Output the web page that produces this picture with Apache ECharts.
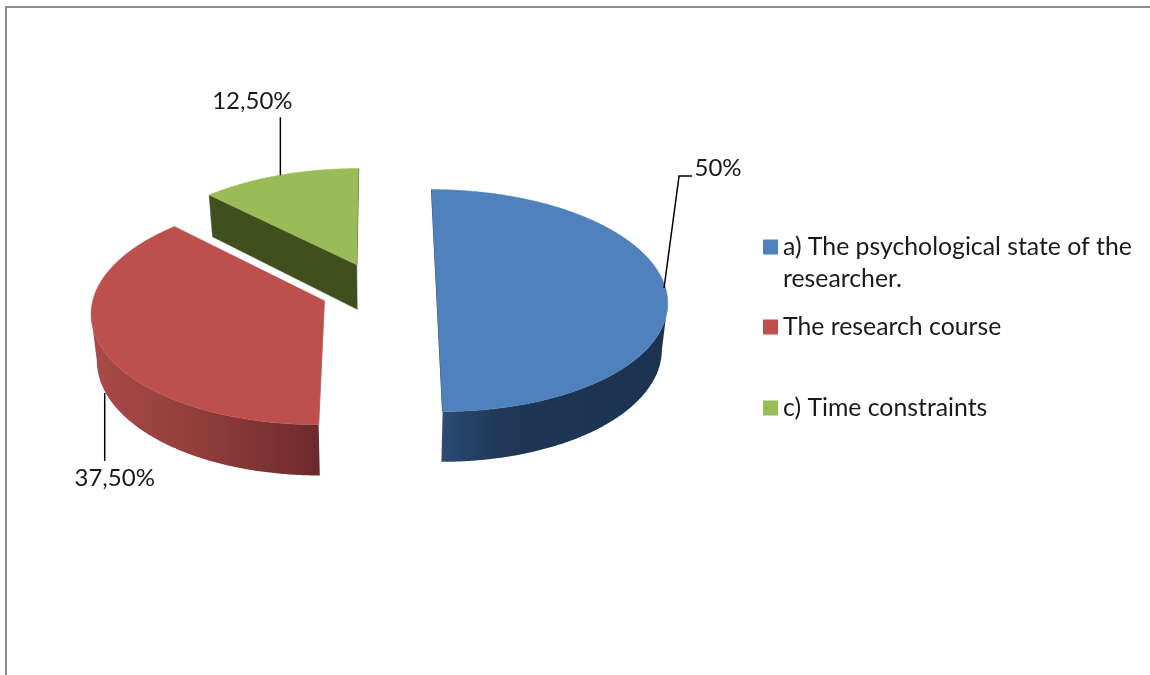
<!DOCTYPE html>
<html>
<head>
<meta charset="utf-8">
<style>html,body{margin:0;padding:0;background:#fff}#c{width:1150px;height:675px}</style>
<script src="https://cdn.jsdelivr.net/npm/echarts@6/dist/echarts.min.js"></script>
</head>
<body>
<div id="c"></div>
<script>
// ---- data ----
const categories = ['a) The psychological state of the researcher.', 'The research course', 'c) Time constraints'];
const values = [50, 37.5, 12.5];
const valueLabels = ['50%', '37,50%', '12,50%'];

// ---- styles ----
const topColors = ['#4f81bd', '#bd4f4c', '#9bbb59'];
const cutWallColors = ['#2a466c', '#b5a3a3', '#3f4f1e'];
const rimStops = [
  [[0, '#2c4d78'], [0.08, '#264468'], [0.3, '#1f3656'], [1, '#1c3250']],
  [[0, '#a94b49'], [0.5, '#8f3c3a'], [1, '#6c2a2a']],
  [[0, '#3f4f1e'], [1, '#3f4f1e']]
];
const FONT = 'Lato, "Open Sans", sans-serif';
const TEXT = '#1a1a1a';

// ---- projection of the tilted pie plane ----
const view = { x0: 378.5, y0: 290, R: 229.5, S: 110, p: 0.095, depth: 45.5, floor: 0.98, explode: 0.253 };
const project = (X, Y, lower) => {
  const w = 1 - view.p * Y;
  const x = view.R * X / w, y = view.S * Y / w;
  return lower
    ? [view.x0 + view.floor * x, view.y0 + y + view.depth / w]
    : [view.x0 + x, view.y0 + y];
};
const total = values.reduce((a, b) => a + b, 0);
const rad = d => d * Math.PI / 180;

// label layout, relative to the point at the slice's mid angle
const labelLayout = [
  { lower: false, leader: [[-2, -2], [13, -114], [26, -114]], text: [52, -122] },
  { lower: true,  leader: [[-1, 0], [-1, 68]], text: [9, 85] },
  { lower: false, leader: [[1, 0], [1, -58]], text: [-27, -74] }
];

function renderSlice(params, api) {
  const i = params.seriesIndex;
  const before = values.slice(0, i).reduce((a, b) => a + b, 0);
  const a0 = before / total * 360, sweep = api.value(0) / total * 360, a1 = a0 + sweep, mid = a0 + sweep / 2;
  const ox = Math.sin(rad(mid)) * view.explode, oy = -Math.cos(rad(mid)) * view.explode;
  const disc = (a, lower) => project(ox + Math.sin(rad(a)), oy - Math.cos(rad(a)), lower);

  const steps = Math.ceil(sweep * 2);
  const angles = [];
  for (let k = 0; k <= steps; k++) angles.push(a0 + sweep * k / steps);

  const children = [];
  const apexT = project(ox, oy, false), apexB = project(ox, oy, true);
  // straight cut faces: a broad face is drawn whole, a nearly edge-on one as a thin line
  const edges = [];
  const addCut = (pT, pB, qT, qB) => {
    const dx = pT[0] - qT[0];
    if (dx > 20) children.push({
      type: 'polygon', shape: { points: [pT, qT, qB, pB] },
      style: { fill: cutWallColors[i], stroke: cutWallColors[i], lineWidth: 0.5 }
    });
    else if (dx > 0) edges.push({
      type: 'line', shape: { x1: pT[0], y1: pT[1], x2: qT[0], y2: qT[1] },
      style: { stroke: cutWallColors[i], lineWidth: 1.2 }
    });
  };
  addCut(apexT, apexB, disc(a0, false), disc(a0, true));
  addCut(disc(a1, false), disc(a1, true), apexT, apexB);
  // outer rim, front facing part
  const vis = angles.filter((a, k) => k < steps && disc(angles[k + 1], false)[0] < disc(a, false)[0]);
  if (vis.length) {
    const last = vis[vis.length - 1] + sweep / steps;
    const rimA = vis.concat([last]);
    const up = rimA.map(a => disc(a, false));
    const dn = rimA.map(a => disc(a, true)).reverse();
    children.push({
      type: 'polygon', shape: { points: up.concat(dn) },
      style: { fill: new echarts.graphic.LinearGradient(0, 0, 1, 0, rimStops[i].map(s => ({ offset: s[0], color: s[1] }))) }
    });
  }
  // top face
  edges.forEach(e => children.push(e));
  children.push({
    type: 'polygon',
    shape: { points: [apexT].concat(angles.map(a => disc(a, false))) },
    style: { fill: topColors[i], stroke: topColors[i], lineWidth: 0.5 }
  });
  // leader and value label
  const lay = labelLayout[i];
  const at = disc(mid, lay.lower);
  children.push({
    type: 'polyline',
    shape: { points: lay.leader.map(o => [at[0] + o[0], at[1] + o[1]]) },
    style: { stroke: '#000', lineWidth: 1.5, fill: null }
  });
  children.push({
    type: 'text',
    style: {
      text: valueLabels[i], x: at[0] + lay.text[0], y: at[1] + lay.text[1],
      align: 'center', verticalAlign: 'middle', font: '24px ' + FONT, fill: TEXT
    }
  });
  return { type: 'group', children };
}

const legendTops = [199, 311, 392];
const legendFormat = [n => '\n' + 'a) The psychological state of the\nresearcher.', n => n, n => n];

const chart = echarts.init(document.getElementById('c'), null, { renderer: 'canvas' });
chart.setOption({
  animation: false,
  backgroundColor: '#fff',
  color: topColors,
  legend: categories.map((name, i) => ({
    data: [name],
    left: 763,
    top: legendTops[i],
    padding: 0,
    selectedMode: false,
    icon: 'rect',
    itemWidth: 15,
    itemHeight: 15,
    itemGap: 0,
    formatter: legendFormat[i],
    textStyle: { fontFamily: 'Lato, "Open Sans", sans-serif', fontSize: 24.8, color: TEXT, lineHeight: 32 }
  })),
  graphic: [
    { type: 'line', silent: true, shape: { x1: 5, y1: 7, x2: 1150, y2: 7 }, style: { stroke: '#8c8c8c', lineWidth: 2 } },
    { type: 'line', silent: true, shape: { x1: 6, y1: 7, x2: 6, y2: 675 }, style: { stroke: '#8c8c8c', lineWidth: 2 } }
  ],
  series: categories.map((name, i) => ({
    type: 'custom',
    name,
    coordinateSystem: 'none',
    silent: true,
    itemStyle: { color: topColors[i] },
    data: [[values[i]]],
    renderItem: renderSlice
  }))
});
</script>
</body>
</html>
